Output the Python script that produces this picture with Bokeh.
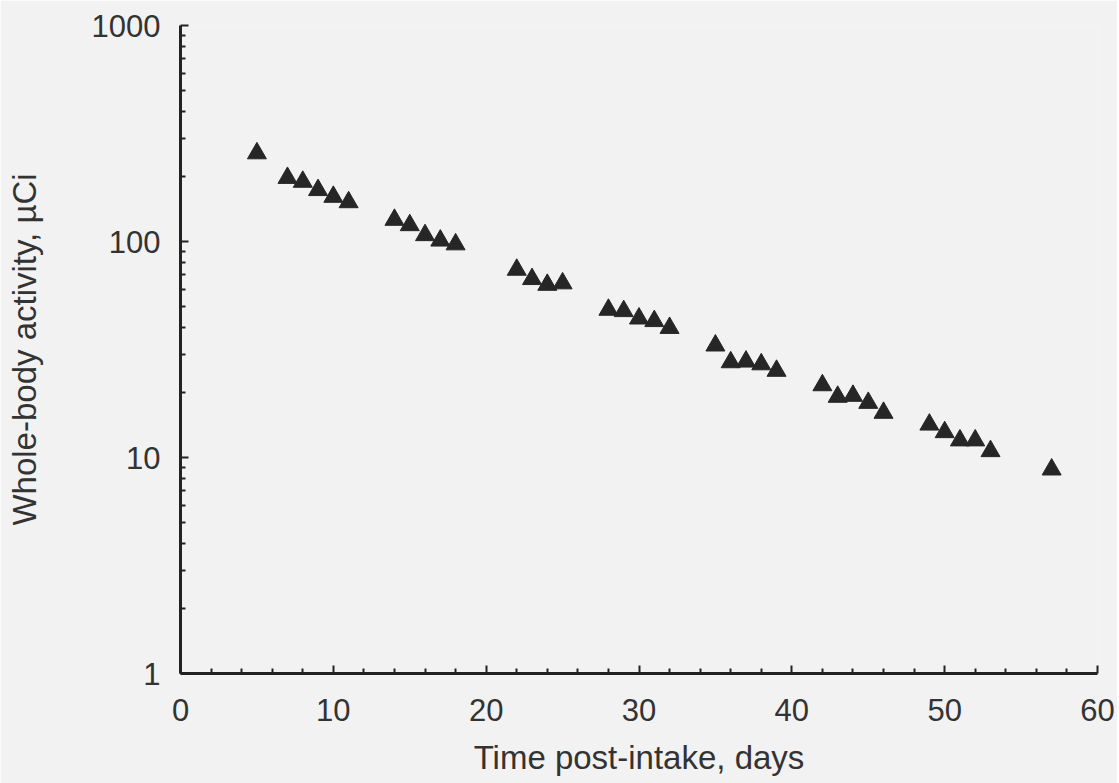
from bokeh.plotting import figure
from bokeh.models import FixedTicker, BasicTickFormatter, ColumnDataSource, Range1d
from bokeh.embed import file_html
from bokeh.resources import INLINE

# Data
days = [5, 7, 8, 9, 10, 11, 14, 15, 16, 17, 18, 22, 23, 24, 25,
        28, 29, 30, 31, 32, 35, 36, 37, 38, 39, 42, 43, 44, 45, 46,
        49, 50, 51, 52, 53, 57]
activity = [256, 197, 189, 173, 161, 152, 126, 119, 107, 101, 97, 74, 67, 63, 64,
            48.3, 47.6, 44, 42.8, 39.8, 33, 27.6, 27.8, 27, 25.2, 21.6, 19.1, 19.3, 17.9, 16.1,
            14.2, 13.1, 12, 12, 10.7, 8.8]
x_ticks = [0, 10, 20, 30, 40, 50, 60]
y_ticks = [1, 10, 100, 1000]

x_minor = [v for v in range(0, 61, 2) if v % 10 != 0]
y_minor = [m * d for d in (1, 10, 100) for m in range(2, 10)]

BG = "#f2f2f2"
FONT = "Liberation Sans"
TXT = "#333333"

p = figure(width=1117, height=783, y_axis_type="log",
           x_range=Range1d(0, 60), y_range=Range1d(1, 1000),
           output_backend="svg", toolbar_location=None,
           min_border_left=180, min_border_top=25, min_border_right=20,
           min_border_bottom=110)
p.background_fill_color = BG
p.border_fill_color = BG
p.outline_line_color = None
p.xgrid.grid_line_color = None
p.ygrid.grid_line_color = None

src = ColumnDataSource(dict(x=days, y=activity))
p.scatter("x", "y", source=src, marker="triangle", size=19,
          fill_color="#262626", line_color="#262626")

p.xaxis.ticker = FixedTicker(ticks=x_ticks, minor_ticks=x_minor)
p.yaxis.ticker = FixedTicker(ticks=y_ticks, minor_ticks=y_minor)
p.yaxis.formatter = BasicTickFormatter(use_scientific=False)

for ax in (p.xaxis[0], p.yaxis[0]):
    ax.axis_line_color = "#222222"
    ax.axis_line_width = 3
    ax.major_tick_line_color = "#222222"
    ax.minor_tick_line_color = "#222222"
    ax.major_tick_line_width = 2
    ax.minor_tick_line_width = 2
    ax.major_tick_out = 0
    ax.minor_tick_out = 0
    ax.major_tick_in = 8
    ax.minor_tick_in = 5
    ax.major_label_text_font = FONT
    ax.major_label_text_font_size = "31px"
    ax.major_label_text_color = TXT
    ax.axis_label_text_font = FONT
    ax.axis_label_text_font_style = "normal"
    ax.axis_label_text_color = TXT
    ax.axis_label_text_font_size = "33px"

p.xaxis.axis_label = "Time post-intake, days"
p.yaxis.axis_label = "Whole-body activity, µCi"
p.xaxis.major_label_standoff = 25
p.xaxis.axis_label_standoff = 15
p.yaxis.major_label_standoff = 20
p.yaxis.axis_label_standoff = 46

open("out.html", "w").write(file_html(p, INLINE))
